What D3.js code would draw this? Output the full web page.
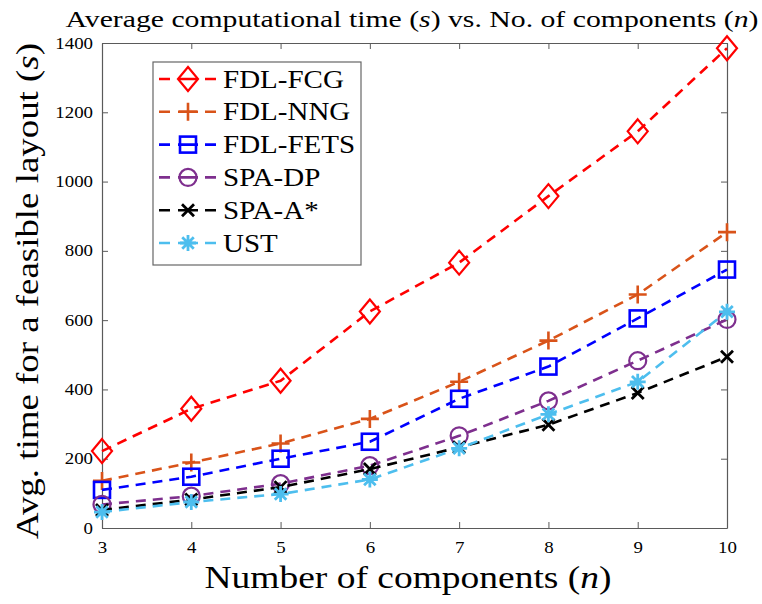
<!DOCTYPE html>
<html><head><meta charset="utf-8">
<script src="https://cdn.jsdelivr.net/npm/d3@7"></script>
<style>body{margin:0;background:#fff}svg{display:block}text{font-family:"Liberation Serif","DejaVu Serif",serif;fill:#000}</style>
</head><body><svg id="c" width="762" height="604"></svg>
<script>
const components = [3,4,5,6,7,8,9,10];
const fdlFCG  = [222,344,425,625,766,958,1145,1385];
const fdlNNG  = [136,189,244,315,422,541,674,854];
const fdlFETS = [110,148,200,249,373,466,605,746];
const spaDP   = [68,92,128,180,266,367,483,602];
const spaA    = [52,82,118,170,233,298,390,494];
const ust     = [46,75,98,140,230,328,422,624];
const yTicks  = [0,200,400,600,800,1000,1200,1400];
const seriesNames = ["FDL-FCG","FDL-NNG","FDL-FETS","SPA-DP","SPA-A*","UST"];
const seriesValues = [fdlFCG,fdlNNG,fdlFETS,spaDP,spaA,ust];
const colors = ["#ff0000","#D95319","#0000ff","#7E2F8E","#000000","#4DBEEE"];
const markers = ["diamond","plus","square","circle","x","asterisk"];

const WIDEN = 1.18; // Computer-Modern-like widening of glyphs
function widen(sel, f){
  sel.each(function(){
    const w = this.getComputedTextLength();
    d3.select(this).attr("textLength", w*(f||WIDEN)).attr("lengthAdjust","spacingAndGlyphs");
  });
}
function fit(sel, w){ sel.attr("textLength", w).attr("lengthAdjust","spacingAndGlyphs"); }

const svg = d3.select("#c");
const m = {l:102,r:727,t:43,b:528};
const x = d3.scaleLinear().domain([3,10]).range([m.l,m.r]);
const y = d3.scaleLinear().domain([0,1400]).range([m.b,m.t]);
const axisCol = "#5a5a5a";

const gx = svg.append("g").attr("transform",`translate(0,${m.b})`)
  .call(d3.axisBottom(x).tickValues(components).tickFormat(d3.format("d")).tickSizeInner(-6).tickSizeOuter(0).tickPadding(14));
const gxt = svg.append("g").attr("transform",`translate(0,${m.t})`)
  .call(d3.axisTop(x).tickValues(components).tickFormat("").tickSizeInner(-6).tickSizeOuter(0));
const gy = svg.append("g").attr("transform",`translate(${m.l},0)`)
  .call(d3.axisLeft(y).tickValues(yTicks).tickFormat(d3.format("d")).tickSizeInner(-6).tickSizeOuter(0).tickPadding(9));
const gyr = svg.append("g").attr("transform",`translate(${m.r},0)`)
  .call(d3.axisRight(y).tickValues(yTicks).tickFormat("").tickSizeInner(-6).tickSizeOuter(0));
[gx,gxt,gy,gyr].forEach(g=>{
  g.select(".domain").attr("stroke",axisCol).attr("stroke-width",1.2);
  g.selectAll(".tick line").attr("stroke",axisCol).attr("stroke-width",1);
  g.selectAll(".tick text").attr("font-size",16).attr("font-family","Liberation Serif, serif").attr("fill","#222");
});
widen(gx.selectAll(".tick text"));
widen(gy.selectAll(".tick text"));

function drawMarker(g, type, cx, cy, col){
  const sw = 2.2;
  if(type==="diamond"){
    g.append("path").attr("d",`M${cx},${cy-12}L${cx+10},${cy}L${cx},${cy+12}L${cx-10},${cy}Z`).attr("fill","none").attr("stroke",col).attr("stroke-width",sw);
  } else if(type==="plus"){
    g.append("path").attr("d",`M${cx-9},${cy}H${cx+9}M${cx},${cy-9}V${cy+9}`).attr("stroke",col).attr("stroke-width",sw+0.4);
  } else if(type==="square"){
    g.append("rect").attr("x",cx-8).attr("y",cy-8).attr("width",16).attr("height",16).attr("fill","none").attr("stroke",col).attr("stroke-width",sw+0.4);
  } else if(type==="circle"){
    g.append("circle").attr("cx",cx).attr("cy",cy).attr("r",8.5).attr("fill","none").attr("stroke",col).attr("stroke-width",sw);
  } else if(type==="x"){
    g.append("path").attr("d",`M${cx-6},${cy-6}L${cx+6},${cy+6}M${cx-6},${cy+6}L${cx+6},${cy-6}`).attr("stroke",col).attr("stroke-width",sw+0.6);
  } else if(type==="asterisk"){
    const r=8;
    let d=`M${cx-r},${cy}H${cx+r}M${cx},${cy-r}V${cy+r}`;
    const q=r*0.72;
    d+=`M${cx-q},${cy-q}L${cx+q},${cy+q}M${cx-q},${cy+q}L${cx+q},${cy-q}`;
    g.append("path").attr("d",d).attr("stroke",col).attr("stroke-width",sw+0.6);
  }
}

const line = d3.line().x((d,i)=>x(components[i])).y(d=>y(d));
seriesValues.forEach((vals,si)=>{
  const g = svg.append("g");
  g.append("path").datum(vals).attr("d",line).attr("fill","none").attr("stroke",colors[si]).attr("stroke-width",2.6).attr("stroke-dasharray","10,7");
  vals.forEach((v,i)=>drawMarker(g,markers[si],x(components[i]),y(v),colors[si]));
});

// legend
const lg = svg.append("g");
lg.append("rect").attr("x",153).attr("y",62).attr("width",208).attr("height",203).attr("fill","#fff").attr("stroke","#666").attr("stroke-width",1.2);
seriesNames.forEach((n,i)=>{
  const yy = 79 + i*32.8;
  lg.append("line").attr("x1",159).attr("x2",216).attr("y1",yy).attr("y2",yy).attr("stroke",colors[i]).attr("stroke-width",2.6).attr("stroke-dasharray","11,8,20,7,11");
  drawMarker(lg,markers[i],188,yy,colors[i]);
  const t = lg.append("text").attr("x",223).attr("y",yy+8.5).attr("font-size",25).text(n);
  widen(t, 1.16);
});

// title and labels
const title = svg.append("text").attr("x",412).attr("y",27).attr("text-anchor","middle").attr("font-size",23)
  .html('Average computational time (<tspan font-style="italic">s</tspan>) vs. No. of components (<tspan font-style="italic">n</tspan>)');
fit(title, 693);
const xl = svg.append("text").attr("x",408).attr("y",588).attr("text-anchor","middle").attr("font-size",32)
  .html('Number of components (<tspan font-style="italic">n</tspan>)');
fit(xl, 407);
const yl = svg.append("text").attr("transform",`translate(38,291) rotate(-90)`).attr("text-anchor","middle").attr("font-size",31)
  .html('Avg. time for a feasible layout (<tspan font-style="italic">s</tspan>)');
fit(yl, 496);
</script></body></html>
